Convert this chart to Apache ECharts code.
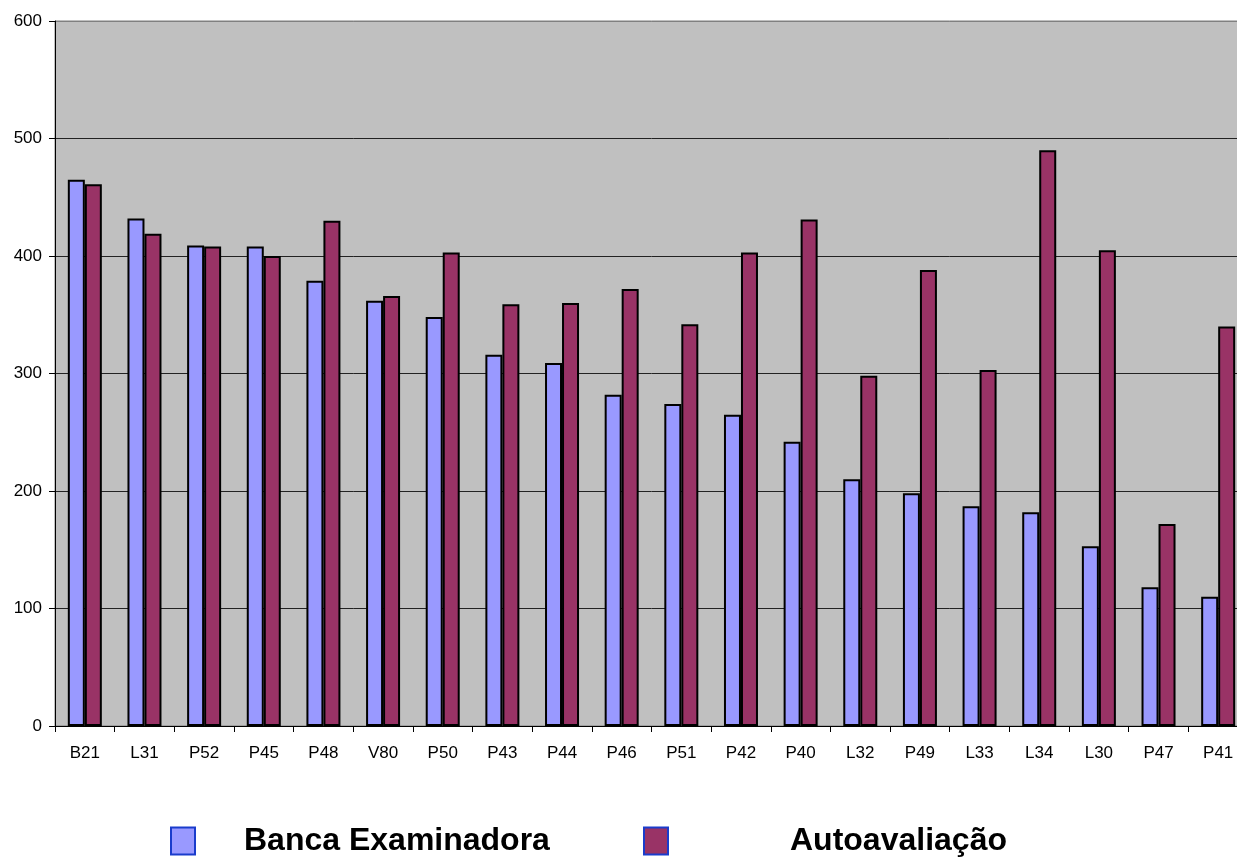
<!DOCTYPE html>
<html>
<head>
<meta charset="utf-8">
<script src="https://cdn.jsdelivr.net/npm/echarts@6/dist/echarts.min.js"></script>
<style>
html,body{margin:0;padding:0;background:#fff;overflow:hidden;}
#c{width:1248px;height:859px;}
</style>
</head>
<body>
<div id="c"></div>
<script>
const categories = ["B21","L31","P52","P45","P48","V80","P50","P43","P44","P46","P51","P42","P40","L32","P49","L33","L34","L30","P47","P41"];
const bancaExaminadora = [465,432,409,408,379,362,348,316,309,282,274,265,242,210,198,187,182,153,118,110];
const autoavaliacao = [461,419,408,400,430,366,403,359,360,372,342,403,431,298,388,303,490,405,172,340];
const yTicks = { min: 0, max: 600, interval: 100 };
const seriesNames = ["Banca Examinadora", "Autoavaliação"];

const chart = echarts.init(document.getElementById('c'));
const font = "'Liberation Sans', Arial, sans-serif";
chart.setOption({
  animation: false,
  backgroundColor: '#ffffff',
  grid: {
    left: 55, top: 21, bottom: 133, right: 0,
    show: true, backgroundColor: '#C0C0C0', borderColor: '#808080', borderWidth: 1
  },
  legend: [
    {
      data: [seriesNames[0]], left: 170, top: 824, padding: 0, itemWidth: 24, itemHeight: 27,
      icon: 'rect',
      itemStyle: { borderColor: '#1A3CCC', borderWidth: 2 },
      textStyle: { fontFamily: font, fontSize: 32, fontWeight: 'bold', color: '#000', lineHeight: 30, padding: [4,0,0,44] }
    },
    {
      data: [seriesNames[1]], left: 643, top: 824, padding: 0, itemWidth: 24, itemHeight: 27,
      icon: 'rect',
      itemStyle: { borderColor: '#1A3CCC', borderWidth: 2 },
      textStyle: { fontFamily: font, fontSize: 32, fontWeight: 'bold', color: '#000', lineHeight: 30, padding: [4,0,0,117] }
    }
  ],
  xAxis: {
    type: 'category',
    data: categories,
    axisLine: { show: true, lineStyle: { color: '#000', width: 1 } },
    axisTick: { show: true, length: 6, lineStyle: { color: '#000' } },
    axisLabel: { fontFamily: font, fontSize: 17, color: '#000', margin: 19, interval: 0 },
    splitLine: { show: false }
  },
  yAxis: {
    type: 'value',
    min: yTicks.min, max: yTicks.max, interval: yTicks.interval,
    axisLine: { show: true, lineStyle: { color: '#000', width: 1 } },
    axisTick: { show: true, length: 6, lineStyle: { color: '#000' } },
    axisLabel: { fontFamily: font, fontSize: 17, color: '#000', margin: 13 },
    splitLine: { show: true, lineStyle: { color: ['#000','#222','#222','#222','#222','#222','#808080'], width: 1 } }
  },
  series: [
    {
      name: seriesNames[0], type: 'bar', data: bancaExaminadora,
      barWidth: 17, barGap: '0%',
      itemStyle: { color: '#9999FF', borderColor: '#000', borderWidth: 2 }
    },
    {
      name: seriesNames[1], type: 'bar', data: autoavaliacao,
      barWidth: 17,
      itemStyle: { color: '#993366', borderColor: '#000', borderWidth: 2 }
    }
  ]
});
</script>
</body>
</html>
